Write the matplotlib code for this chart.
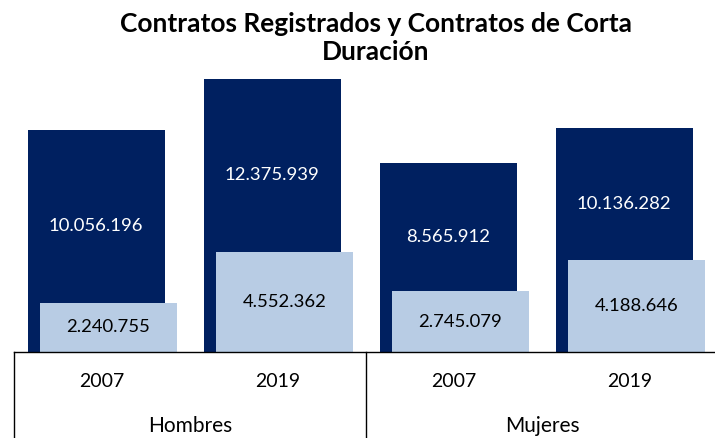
import matplotlib
matplotlib.use("Agg")
import matplotlib.pyplot as plt

plt.rcParams['font.family'] = ['Lato', 'DejaVu Sans']

NAVY = '#002060'
LIGHT = '#B8CCE4'

years = ['2007', '2019', '2007', '2019']
groups = ['Hombres', 'Mujeres']
registrados = [10056196, 12375939, 8565912, 10136282]
corta = [2240755, 4552362, 2745079, 4188646]


def fmt(v):
    return f'{v:,}'.replace(',', '.')


fig = plt.figure(figsize=(7.15, 4.38), dpi=100)
ax = fig.add_axes([14 / 715, 86 / 438, 704 / 715, 309 / 438])
ax.set_xlim(-0.5, 3.5)
ax.set_ylim(0, 14000000)

x = range(len(years))
width = 0.78
ax.bar([i - 0.033 for i in x], registrados, width, color=NAVY, zorder=2)
ax.bar([i + 0.036 for i in x], corta, width, color=LIGHT, zorder=3)

for i in x:
    ymid = (registrados[i] + corta[i]) / 2 - 450000
    ax.text(i - 0.033, ymid, fmt(registrados[i]), ha='center', va='center',
            color='white', fontsize=13.3, zorder=4)
    ax.text(i + 0.036, corta[i] / 2, fmt(corta[i]), ha='center', va='center',
            color='black', fontsize=13.3, zorder=4)

# category axis: years under each bar, gender under each pair
tr = ax.get_xaxis_transform()
for i in x:
    ax.text(i, -0.094, years[i], transform=tr, ha='center', va='center',
            fontsize=14)
for g, name in enumerate(groups):
    ax.text(2 * g + 0.5, -0.238, name, transform=tr, ha='center',
            va='center', fontsize=15)
for xs in (-0.5, 1.5, 3.5):
    ax.plot([xs, xs], [0, -0.3], transform=tr, color='black', lw=1,
            clip_on=False)
ax.plot([-0.5, 3.5], [0, 0], transform=tr, color='black', lw=1,
        clip_on=False, zorder=5)

for s in ax.spines.values():
    s.set_visible(False)
ax.set_xticks([])
ax.set_yticks([])

fig.text(376 / 715, 1 - 38 / 438,
         'Contratos Registrados y Contratos de Corta\nDuración',
         ha='center', va='center', fontsize=19, fontweight='bold',
         linespacing=1.15)

fig.savefig('out.png', dpi=100)
